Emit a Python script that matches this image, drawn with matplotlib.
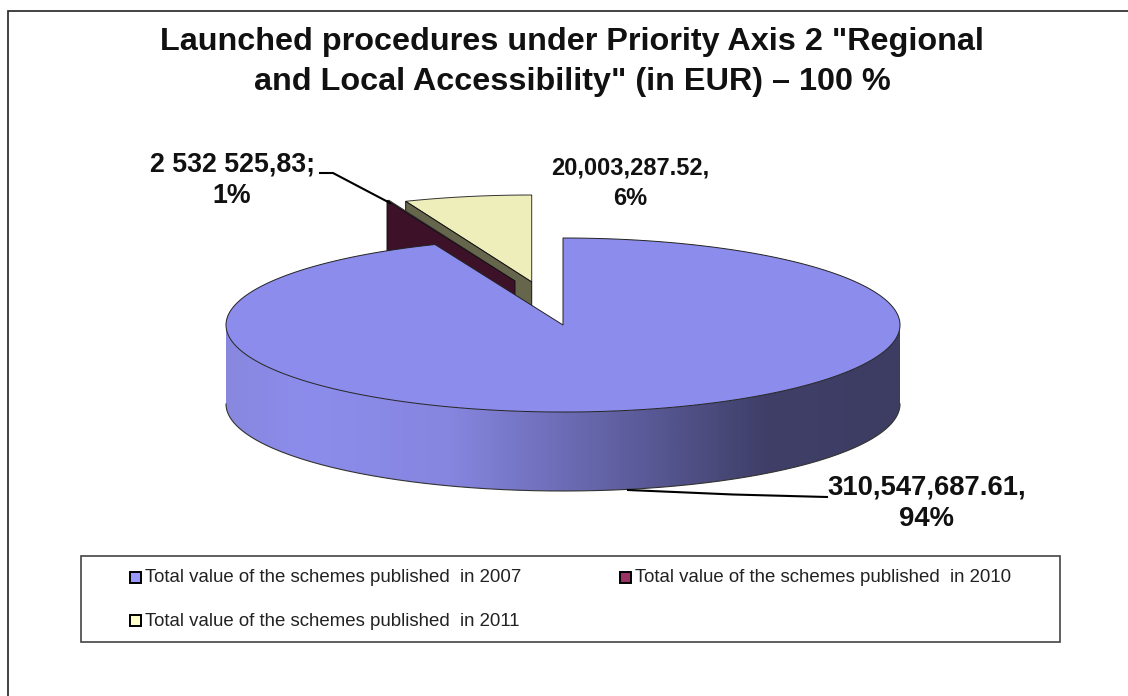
import numpy as np
import matplotlib
matplotlib.use("Agg")
import matplotlib.pyplot as plt
from matplotlib.patches import Polygon, Rectangle
from matplotlib.colors import LinearSegmentedColormap

# ---- data ----
categories = ["Total value of the schemes published  in 2007",
              "Total value of the schemes published  in 2010",
              "Total value of the schemes published  in 2011"]
amounts = [310547687.61, 2532525.83, 20003287.52]
slice_shares = [93.8, 0.1, 6.1]          # share of the circle as drawn, per cent
data_labels = ["310,547,687.61,\n94%", "2 532 525,83;\n1%", "20,003,287.52,\n6%"]
title_lines = "Launched procedures under Priority Axis 2 \"Regional\nand Local Accessibility\" (in EUR) \u2013 100 %"

# ---- style ----
FONT = "Liberation Sans"
top_colors = ["#8c8cec", "#993366", "#eeeebb"]
side_colors = ["#8c8cec", "#3d1228", "#66664d"]
legend_colors = ["#9999ff", "#993366", "#ffffcc"]
cx, cy, rx, ry, depth = 563, 325, 337, 87, 79
offsets = [(0, 0), (-48, -44), (-31.3, -43)]

fig = plt.figure(figsize=(11.28, 6.96), dpi=100, facecolor="white")
ax = fig.add_axes([0, 0, 1, 1])
ax.set_xlim(0, 1128)
ax.set_ylim(696, 0)
ax.axis("off")

# chart frame: only the top and left edges fall inside the picture
ax.plot([8, 8, 1128], [696, 11, 11], color="#222222", lw=1.2, solid_joinstyle="miter")


def arc(a0, a1, ox=0, oy=0, n=200):
    t = np.radians(np.linspace(a0, a1, n))
    return cx + ox + rx * np.sin(t), cy + oy - ry * np.cos(t)


edges = np.concatenate([[0], np.cumsum(slice_shares)]) / np.sum(slice_shares) * 360


def draw_slice(i, z):
    a0, a1 = edges[i], edges[i + 1]
    ox, oy = offsets[i]
    ax0, ay0 = cx + ox, cy + oy
    xs, ys = arc(a0, a1, ox, oy)
    ax.add_patch(Polygon(np.column_stack([np.r_[ax0, xs], np.r_[ay0, ys]]),
                         fc=top_colors[i], ec="#333333", lw=0.7, zorder=z))
    ax.add_patch(Polygon([(xs[0], ys[0]), (ax0, ay0), (ax0, ay0 + depth), (xs[0], ys[0] + depth)],
                         fc=side_colors[i], ec="#111111", lw=0.7, zorder=z + 0.2))


# exploded slices behind the main slice; the 2010 cut face sits in front of the 2011 one
draw_slice(2, 2)
draw_slice(1, 3)

# main slice: gradient rim
a0, a1 = edges[0], edges[1]
xs, ys = arc(90, 270)
rim = Polygon(np.column_stack([np.r_[xs, xs[::-1]], np.r_[ys, ys[::-1] + depth]]),
              closed=True, fc="none", ec="none", zorder=5)
ax.add_patch(rim)
rim_cmap = LinearSegmentedColormap.from_list(
    "rim", [(0.0, "#8888e0"), (0.12, "#8c8cec"), (0.33, "#8686e0"),
            (0.62, "#5a5a98"), (0.80, "#3f3f68"), (1.0, "#3d3d63")])
img = ax.imshow(np.linspace(0, 1, 600)[None, :], cmap=rim_cmap, aspect="auto",
                extent=(cx - rx, cx + rx, cy + ry + depth, cy), zorder=5, vmin=0, vmax=1)
img.set_clip_path(rim)
ax.set_xlim(0, 1128)
ax.set_ylim(696, 0)
# rim outline
ax.plot(xs, ys + depth, color="#333333", lw=0.8, zorder=6)

# main slice: top
xs, ys = arc(a0, a1, 0, 0, 400)
ax.add_patch(Polygon(np.column_stack([np.r_[cx, xs], np.r_[cy, ys]]),
                     fc=top_colors[0], ec="#222222", lw=0.7, zorder=7))

# leader lines
ax.plot([320, 333, 390], [173, 173, 203], color="black", lw=1.5, zorder=8)
ax.plot([628, 733, 827], [490, 494.5, 497], color="black", lw=1.5, zorder=8)

# text
ax.text(572, 62, title_lines, ha="center", va="center", fontsize=23.3, fontweight="bold",
        family=FONT, linespacing=1.47, color="#111111")
ax.text(927, 503.5, data_labels[0], ha="center", va="center", fontsize=19.8, fontweight="bold",
        family=FONT, linespacing=1.27, color="#111111", zorder=8)
ax.text(232, 180.5, data_labels[1], ha="center", va="center", fontsize=19.3, fontweight="bold",
        family=FONT, linespacing=1.25, color="#111111")
ax.text(630, 183.5, data_labels[2], ha="center", va="center", fontsize=17, fontweight="bold",
        family=FONT, linespacing=1.4, color="#111111")

# legend
ax.add_patch(Rectangle((81, 556), 979, 86, fc="white", ec="#444444", lw=1.2, zorder=9))
legend_pos = [(130, 578), (620, 578), (130, 621)]
for (lx, ly), col, lab in zip(legend_pos, legend_colors, categories):
    ax.add_patch(Rectangle((lx, ly - 6.5), 11, 11, fc=col, ec="black", lw=1.4, zorder=10))
    ax.text(lx + 15, ly, lab, ha="left", va="center", fontsize=13.4, family=FONT, color="#222222", zorder=10)

fig.savefig("out.png", dpi=100)
